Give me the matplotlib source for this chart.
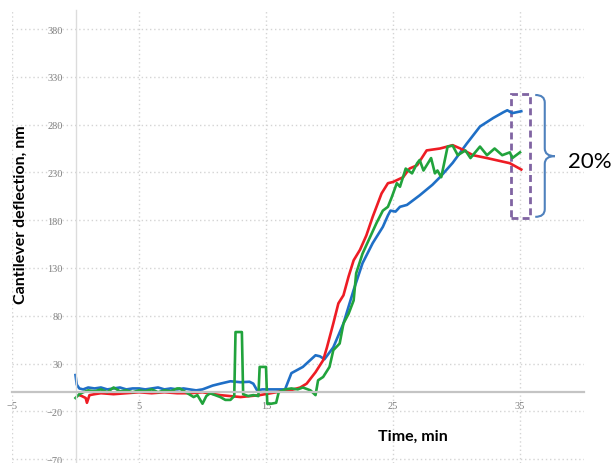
import numpy as np
import matplotlib
matplotlib.use("Agg")
import matplotlib.pyplot as plt
from matplotlib.path import Path
from matplotlib.patches import PathPatch, Rectangle

# (time in min, deflection in nm)
blue_t = [0, 0.1, 0.3, 0.6, 1, 1.5, 2, 2.5, 3, 3.5,
          4, 4.5, 5, 5.5, 6, 6.5, 7, 7.5, 8, 8.5,
          9, 9.5, 10, 10.4, 10.8, 11.4, 12.2, 13, 13.7, 14,
          14.3, 14.7, 15.5, 16.5, 17, 17.9, 18.9, 19.25, 19.6, 20.3,
          21.1, 21.9, 22.6, 23.4, 24.2, 24.6, 24.8, 25.2, 25.55, 26.1,
          27.1, 28.1, 28.7, 29.7, 30.8, 31.85, 32.9, 33.7, 34, 34.4,
          35.1]
blue_y = [18, 8, 4, 3, 5, 4, 5, 3, 4, 5,
          3, 4, 4, 3, 4, 5, 3, 4, 3, 4,
          3, 2, 3, 5, 7, 9, 11.5, 10.5, 11, 9,
          2, 3, 3, 3, 20, 26.5, 38.7, 37.6, 34.5, 47,
          72, 107, 135, 156, 173, 185, 190, 189, 194, 196,
          206, 217, 225, 240, 260, 278, 287, 293, 295, 292,
          294]

red_t = [0.3, 0.5, 0.8, 0.9, 1.1, 1.5, 2, 3, 4, 5,
         6, 7, 8, 9, 10, 11.4, 13, 14.5, 15.8, 16.9,
         17.7, 18.2, 18.9, 19.5, 19.8, 20.3, 20.7, 21.1, 21.5, 21.9,
         22.4, 22.9, 23.4, 24.1, 24.6, 25, 25.8, 26.3, 26.9, 27.65,
         28.7, 29.7, 30.3, 31.3, 32.4, 33.4, 34.2, 35.1]
red_y = [-3, -4, -6, -11, -3, -2, -1, -2, -1, 0,
         -1, 0, -1, -1, 0, -3, -5, -3, 0, 2,
         5, 9, 21, 33.5, 47, 72, 93, 101.5, 121, 138,
         149, 164, 183.5, 208, 218.7, 220, 225, 234, 237.5, 253,
         255, 258.5, 255, 248, 245, 242, 239.6, 233]

green_t = [0, 0.3, 0.6, 1, 1.5, 2, 2.5, 3, 3.5, 4,
           4.5, 5, 5.5, 6, 6.5, 7, 7.5, 8, 8.2, 8.7,
           9.3, 9.6, 10, 10.3, 10.6, 11, 11.4, 11.8, 12.2, 12.5,
           12.6, 13.1, 13.2, 13.6, 14, 14.4, 14.5, 15, 15.1, 15.4,
           15.8, 16, 16.5, 17, 17.5, 17.9, 18.5, 18.9, 19.1, 19.5,
           20, 20.3, 20.8, 21.1, 21.5, 21.9, 22.1, 22.6, 23.2, 23.7,
           24.2, 24.6, 24.9, 25.3, 25.55, 26, 26.5, 26.9, 27.1, 27.4,
           28, 28.3, 28.5, 28.8, 29.3, 29.7, 30.1, 30.7, 31.1, 31.85,
           32.4, 33, 33.6, 34.2, 34.4, 35]
green_y = [-6, -2, 0, 2, 1, 3, 0, 5, 1, 2,
           0, 2, 1, 3, 0, 2, 1, 4, 4, 0,
           -5, -3, -12, -4, -1, -3, -5, -8, -8, -4,
           63, 63, -2, -4, -3, -4, 26.5, 26.5, -12, -12,
           -11, 0, 3, 4, 3, 5, 2, -3, 12.5, 16,
           26.5, 44, 51, 72, 82, 96, 124.5, 145, 162.5, 177,
           190, 194, 204, 218.7, 215, 234, 229, 239.6, 243, 232,
           245, 229, 232, 225, 257, 258, 248, 253, 245, 257,
           248, 255, 248, 251, 245, 251]

x_ticks = [-5, 5, 15, 25, 35]
y_ticks = list(range(-70, 381, 50))

fig = plt.figure(figsize=(6.15, 4.64), dpi=100)
ax = fig.add_axes([12 / 615, 0, 571.5 / 615, 1 - 10.9 / 464])
ax.set_xlim(-5, 40)
ax.set_ylim(-74, 400)

ax.grid(True, linestyle=(0, (1, 2)), color="#d4d4d4", lw=1)
ax.set_axisbelow(True)
for s in ["top", "right"]:
    ax.spines[s].set_visible(False)
ax.spines["left"].set_position(("data", 0))
ax.spines["bottom"].set_position(("data", 0))
ax.spines["left"].set_color("#dcdcdc")
ax.spines["left"].set_linewidth(1)
ax.spines["bottom"].set_color("#c4c4c4")
ax.spines["bottom"].set_linewidth(1.6)

ax.set_xticks(x_ticks)
ax.set_yticks(y_ticks)
ax.tick_params(length=0, labelsize=7.5, labelcolor="#808080")
ax.tick_params(axis="y", pad=9)
ax.tick_params(axis="x", pad=6)
for lab in ax.get_xticklabels() + ax.get_yticklabels():
    lab.set_family("Liberation Serif")

ax.plot(blue_t, blue_y, color="#1f6fc6", lw=1.9)
ax.plot(red_t, red_y, color="#ee1c24", lw=1.9)
ax.plot(green_t, green_y, color="#21a33c", lw=1.9)

# dashed box around the final values
ax.add_patch(Rectangle((34.3, 182.8), 1.5, 129, fill=False, ec="#8064a2",
                       lw=2, ls=(0, (2.5, 1.5)), clip_on=False))

# curly brace
x0, x1, x2 = 36.2, 36.95, 37.75
yt, yb, ym = 311, 183.5, 247
r = 8
verts = [(x0, yt), (x1, yt), (x1, yt - r), (x1, ym + r), (x1, ym), (x2, ym),
         (x1, ym), (x1, ym - r), (x1, yb + r), (x1, yb), (x0, yb)]
codes = [Path.MOVETO, Path.CURVE3, Path.CURVE3, Path.LINETO, Path.CURVE3, Path.CURVE3,
         Path.CURVE3, Path.CURVE3, Path.LINETO, Path.CURVE3, Path.CURVE3]
ax.add_patch(PathPatch(Path(verts, codes), fc="none", ec="#4f81bd", lw=1.5, clip_on=False))

fig.text(568 / 615, 1 - 162 / 464, "20%", fontsize=16, family="Lato",
         ha="left", va="center")
fig.text(413 / 615, 1 - 437 / 464, "Time, min", fontsize=11.5, family="Lato",
         weight="bold", ha="center", va="center")
fig.text(21 / 615, 1 - 215 / 464, "Cantilever deflection, nm", fontsize=11.5,
         family="Lato", weight="bold", rotation=90, ha="center", va="center")

fig.savefig("out.png", dpi=100)
